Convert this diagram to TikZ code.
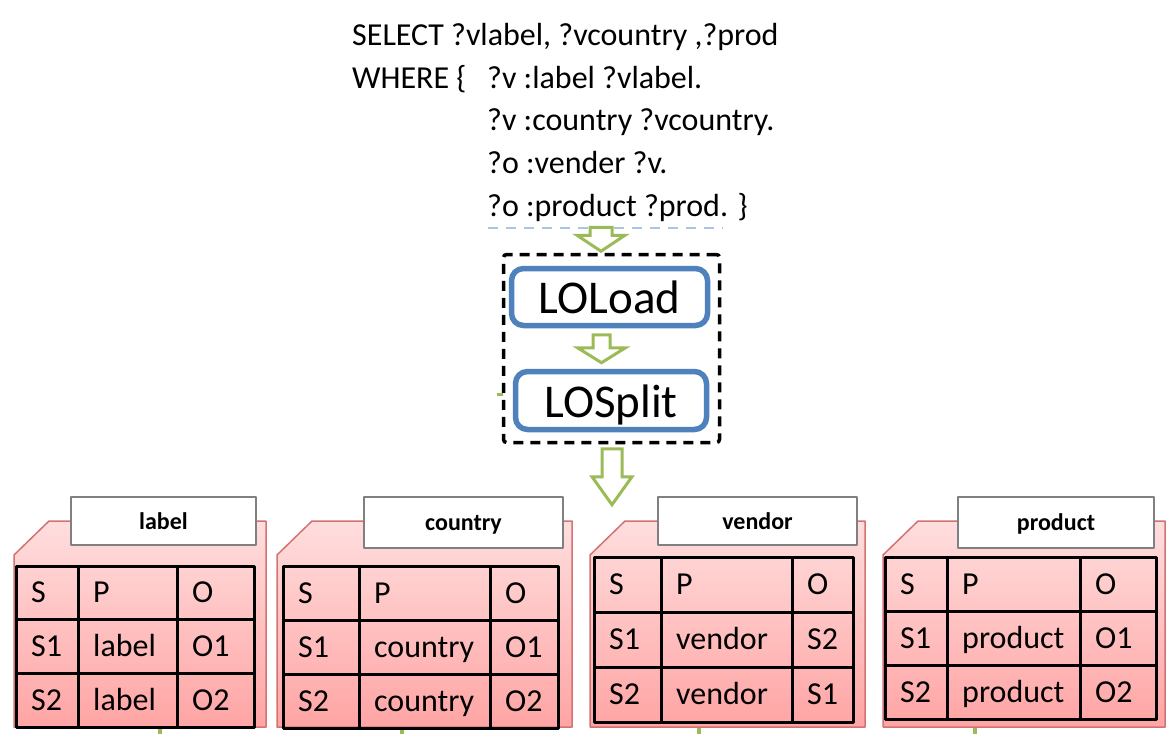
\documentclass[tikz,border=0pt]{standalone}
\usepackage{fontspec}
\setmainfont{Carlito}
\usetikzlibrary{calc}
\definecolor{loblue}{HTML}{4F81BD}
\definecolor{arrgreen}{HTML}{9BBB59}
\definecolor{folderred}{HTML}{D37272}
\definecolor{pinktop}{HTML}{FFDEDE}
\definecolor{pinkbot}{HTML}{FFA4A4}
\definecolor{qblue}{HTML}{A9C6E8}

\begin{document}
\begin{tikzpicture}[x=1pt,y=-1pt,join=round,
  qtext/.style={anchor=base west,inner sep=0pt,font=\fontsize{32}{38}\selectfont},
  lobox/.style={draw=loblue,line width=5.5pt,rounded corners=12pt,fill=white,inner sep=0pt,
    font=\fontsize{47}{56}\selectfont,text height=40pt,text depth=7pt},
  dashbox/.style={draw=black,line width=3.5pt,dash pattern=on 10pt off 7pt,rounded corners=3pt},
  fatarrow/.style={draw=arrgreen,line width=3pt,fill=white,line join=miter},
  folder/.style={draw=folderred,line width=1.5pt,top color=pinktop,bottom color=pinkbot},
  titlebox/.style={draw=gray,line width=1.5pt,fill=white,inner sep=0pt,
    font=\fontsize{24}{29}\selectfont\bfseries,text height=19pt,text depth=3pt},
  tabline/.style={line width=3pt,line cap=rect},
  tabcell/.style={anchor=base west,inner sep=0pt,font=\fontsize{32}{38}\selectfont},
  stub/.style={draw=arrgreen,line width=4pt}]
\useasboundingbox (0,0) rectangle (1172,754);

% SPARQL query
\node[qtext] (sel) at (352,46) {SELECT ?vlabel, ?vcountry ,?prod};
\node[qtext] (where) at (352,89) {WHERE \{};
\node[qtext] (t1) at (487,89) {?v :label ?vlabel.};
\node[qtext] (t2) at (487,131) {?v :country ?vcountry.};
\node[qtext] (t3) at (487,174) {?o :vender ?v.};
\node[qtext] (t4) at (487,216) {?o :product ?prod. \}};
\draw[qblue,line width=1.5pt,dash pattern=on 10pt off 8pt]
  ($(t4.base west)+(1,12)$) -- ++(235,0);

% logical operators
\draw[stub,line width=3pt] (497,394) -- (503,394);
\node[dashbox,minimum width=216pt,minimum height=188pt] (ops) at (611.5,348.5) {};
\node[lobox,minimum width=196pt,minimum height=57pt] (load) at (609.5,297) {LOLoad};
\node[lobox,minimum width=191pt,minimum height=58pt] (split) at (611,400.5) {LOSplit};

% block arrows
\coordinate (a1) at ($(ops.north)+(-10.5,-25.5)$);
\coordinate (a2) at ($(load.south)+(-8,6.5)$);
\coordinate (a3) at ($(ops.south)+(0.5,4.5)$);
\draw[fatarrow] (a1) ++(-11,0) -- ++(0,8) -- ++(-13,0) -- ++(24,16) -- ++(24,-16) -- ++(-13,0) -- ++(0,-8) -- cycle;
\draw[fatarrow] (a2) ++(-8.5,0) -- ++(0,13) -- ++(-15.5,0) -- ++(24,15) -- ++(24,-15) -- ++(-15.5,0) -- ++(0,-13) -- cycle;
\draw[fatarrow] (a3) ++(-10,0) -- ++(0,28) -- ++(-10,0) -- ++(20,28) -- ++(20,-28) -- ++(-10,0) -- ++(0,-28) -- cycle;

% split tables
\foreach \tb/\ttl/\sl/\sr/\bl/\br/\bb/\xa/\xb/\xc/\xd/\yt/\rh/\pr/\oa/\ob/\gt in {
    lab/label/14/266/71/256/545/16/78/177/254/566/53.7/label/O1/O2/160,
    cty/country/277/572/364/563/548/283/359/490/558/566/54/country/O1/O2/402,
    ven/vendor/590/865/658/857/545/594/661/792/853/557/55/vendor/S2/S1/699,
    prd/product/883/1165/958/1154/548/885/947/1080/1156/557/54/product/O1/O2/975} {
  \draw[stub] (\gt,728) -- (\gt,734);
  \draw[folder] (\sl,555) -- (\sl+35,521) -- (\sr,521) -- (\sr,727) -- (\sl,727) -- cycle;
  \node[titlebox,minimum width=\br-\bl,minimum height=\bb-497] (\tb-title)
    at ({(\bl+\br)/2},{(497+\bb)/2}) {\ttl};
  \draw[tabline] (\xa,\yt) rectangle (\xd,\yt+3*\rh);
  \draw[tabline] (\xa,\yt+\rh) -- (\xd,\yt+\rh) (\xa,\yt+2*\rh) -- (\xd,\yt+2*\rh);
  \draw[tabline] (\xb,\yt) -- (\xb,\yt+3*\rh) (\xc,\yt) -- (\xc,\yt+3*\rh);
  \foreach \r/\ca/\cb/\cc in {0/S/P/O,1/S1/\pr/\oa,2/S2/\pr/\ob} {
    \node[tabcell] (\tb-\r-s) at (\xa+15,\yt+\r*\rh+\rh/2+10) {\ca};
    \node[tabcell] (\tb-\r-p) at (\xb+15,\yt+\r*\rh+\rh/2+10) {\cb};
    \node[tabcell] (\tb-\r-o) at (\xc+15,\yt+\r*\rh+\rh/2+10) {\cc};
  }
}
\end{tikzpicture}
\end{document}
